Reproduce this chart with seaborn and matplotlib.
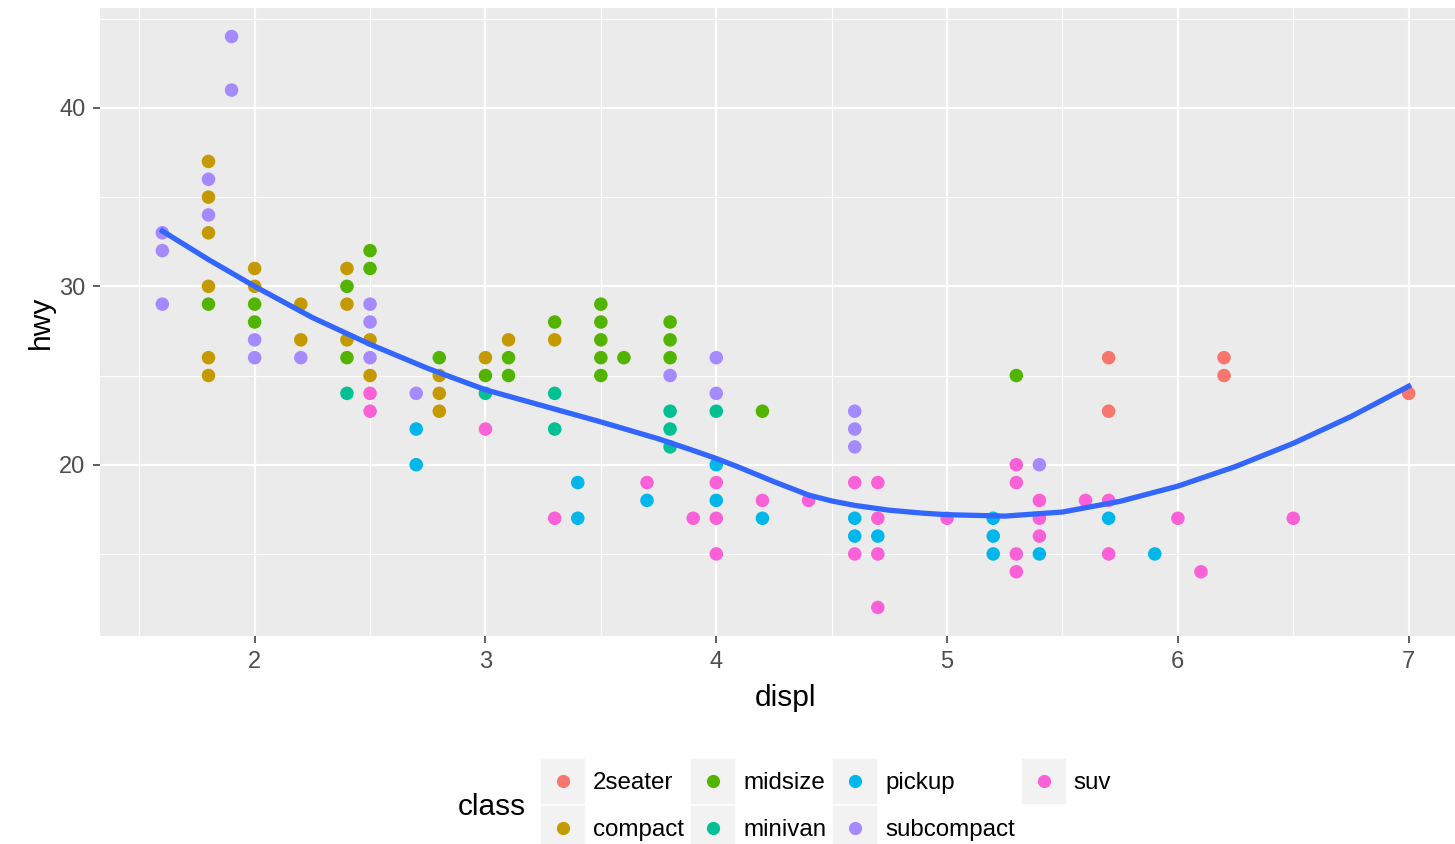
import matplotlib
matplotlib.use("Agg")
import matplotlib.pyplot as plt
from matplotlib.patches import Rectangle
from matplotlib.lines import Line2D
from matplotlib.legend_handler import HandlerBase
import seaborn as sns
import pandas as pd

# ---- data (distinct visible points) ----
twoseater_displ = [5.7, 5.7, 6.2, 6.2, 7.0]
twoseater_hwy = [26, 23, 26, 25, 24]

compact_displ = [1.8, 1.8, 1.8, 1.8, 1.8, 1.8, 2.0, 2.0, 2.2, 2.2, 2.4, 2.4, 2.4,
                 2.5, 2.5, 2.8, 2.8, 2.8, 3.0, 3.1, 3.3]
compact_hwy = [37, 35, 33, 30, 26, 25, 31, 30, 29, 27, 31, 29, 27,
               27, 25, 25, 24, 23, 26, 27, 27]

midsize_displ = [1.8, 2.0, 2.0, 2.4, 2.4, 2.5, 2.5, 2.8, 3.0, 3.1, 3.1, 3.3, 3.5, 3.5,
                 3.5, 3.5, 3.5, 3.6, 3.8, 3.8, 3.8, 4.2, 5.3]
midsize_hwy = [29, 29, 28, 30, 26, 32, 31, 26, 25, 26, 25, 28, 29, 28,
               27, 26, 25, 26, 28, 27, 26, 23, 25]

minivan_displ = [2.4, 3.0, 3.3, 3.3, 3.8, 3.8, 3.8, 4.0]
minivan_hwy = [24, 24, 24, 22, 23, 22, 21, 23]

pickup_displ = [2.7, 2.7, 3.4, 3.4, 3.7, 4.0, 4.0, 4.2, 4.6, 4.6, 4.7, 5.2, 5.2, 5.2,
                5.4, 5.7, 5.9]
pickup_hwy = [22, 20, 19, 17, 18, 20, 18, 17, 17, 16, 16, 17, 16, 15,
              15, 17, 15]

subcompact_displ = [1.6, 1.6, 1.6, 1.8, 1.8, 1.9, 1.9, 2.0, 2.0, 2.2, 2.5, 2.5, 2.5,
                    2.7, 3.8, 4.0, 4.0, 4.6, 4.6, 4.6, 5.4]
subcompact_hwy = [33, 32, 29, 36, 34, 44, 41, 27, 26, 26, 29, 28, 26,
                  24, 25, 26, 24, 23, 22, 21, 20]

suv_displ = [2.5, 2.5, 3.0, 3.3, 3.7, 3.9, 4.0, 4.0, 4.0, 4.2, 4.4, 4.6, 4.6, 4.7, 4.7,
             4.7, 4.7, 5.0, 5.3, 5.3, 5.3, 5.3, 5.4, 5.4, 5.4, 5.6, 5.7, 5.7, 6.0,
             6.1, 6.5]
suv_hwy = [24, 23, 22, 17, 19, 17, 19, 17, 15, 18, 18, 19, 15, 19, 17,
           15, 12, 17, 20, 19, 15, 14, 18, 17, 16, 18, 18, 15, 17,
           14, 17]

classes = ["2seater", "compact", "midsize", "minivan", "pickup", "subcompact", "suv"]
class_colors = ["#F8766D", "#C49A00", "#53B400", "#00C094", "#00B6EB", "#A58AFF", "#FB61D7"]

# smooth (loess) curve
smooth_x = [1.6, 1.8, 2.0, 2.25, 2.5, 2.75, 3.0, 3.25, 3.5, 3.75, 3.9, 4.0, 4.1, 4.25,
            4.4, 4.5, 4.6, 4.75, 4.9, 5.0, 5.25, 5.5, 5.75, 6.0, 6.25, 6.5, 6.75, 7.0]
smooth_y = [33.1, 31.5, 30.0, 28.25, 26.75, 25.4, 24.2, 23.3, 22.4, 21.45, 20.8, 20.35,
            19.85, 19.05, 18.3, 17.97, 17.72, 17.45, 17.28, 17.2, 17.12, 17.35, 17.95,
            18.8, 19.9, 21.2, 22.7, 24.4]

x_ticks = [2, 3, 4, 5, 6, 7]
y_ticks = [20, 30, 40]

# ---- build table ----
series = [(twoseater_displ, twoseater_hwy), (compact_displ, compact_hwy),
          (midsize_displ, midsize_hwy), (minivan_displ, minivan_hwy),
          (pickup_displ, pickup_hwy), (subcompact_displ, subcompact_hwy),
          (suv_displ, suv_hwy)]
rows = []
for cls, (xs, ys) in zip(classes, series):
    for xv, yv in zip(xs, ys):
        rows.append({"displ": xv, "hwy": yv, "class": cls})
df = pd.DataFrame(rows)
palette = dict(zip(classes, class_colors))

plt.rcParams["font.family"] = ["Liberation Sans", "DejaVu Sans"]

W, H = 1455, 844
TICK_FS = 17
TITLE_FS = 21.5
fig = plt.figure(figsize=(W / 100, H / 100), dpi=100)
ax = fig.add_axes([100 / W, 1 - 636 / H, 1371 / W, 628 / H])
ax.set_facecolor("#EBEBEB")
for s in ax.spines.values():
    s.set_visible(False)

ax.set_xlim(1.33, 7.27)
ax.set_ylim(10.4, 45.6)
ax.set_xticks(x_ticks)
ax.set_yticks(y_ticks)
ax.set_xticks([1.5, 2.5, 3.5, 4.5, 5.5, 6.5], minor=True)
ax.set_yticks([15, 25, 35, 45], minor=True)
ax.grid(True, which="major", color="white", linewidth=1.6)
ax.grid(True, which="minor", color="white", linewidth=0.8)
ax.set_axisbelow(True)
ax.tick_params(which="major", length=5, width=1.1, color="#333333",
               labelsize=TICK_FS, labelcolor="#4D4D4D")
ax.tick_params(axis="x", which="major", pad=5.5)
ax.tick_params(axis="y", which="major", pad=5.5)
ax.tick_params(which="minor", length=0)

sns.scatterplot(data=df, x="displ", y="hwy", hue="class", hue_order=classes,
                palette=palette, s=95, linewidth=0, legend=False, ax=ax, zorder=3)
sns.lineplot(x=smooth_x, y=smooth_y, color="#3366FF", linewidth=3.8, ax=ax,
             zorder=4, estimator=None, sort=False)

ax.set_xlabel("displ", fontsize=TITLE_FS, color="black", labelpad=8)
ax.set_ylabel("hwy", fontsize=TITLE_FS, color="black", labelpad=3)


class KeyHandler(HandlerBase):
    def create_artists(self, legend, orig_handle, xdescent, ydescent, width, height,
                       fontsize, trans):
        rect = Rectangle((-xdescent, -ydescent), width, height, facecolor="#F2F2F2",
                         edgecolor="white", linewidth=1.2, transform=trans)
        dot = Line2D([width / 2 - xdescent], [height / 2 - ydescent], marker="o",
                     markersize=9.5, color=orig_handle.get_color(), linestyle="none",
                     markeredgewidth=0, transform=trans)
        return [rect, dot]


LEG_FS = 17.4
fs_px = LEG_FS / 72 * 100
box_pt = 47 * 0.72
hh = (box_pt / LEG_FS - 0.245) / 0.65
handles = [Line2D([], [], color=c) for c in class_colors]
fig.legend(handles, classes, loc="upper left", bbox_to_anchor=(540 / W, 1 - 758 / H),
           ncol=4, frameon=False, borderpad=0, borderaxespad=0,
           handlelength=46 / fs_px, handleheight=hh, handletextpad=7 / fs_px,
           columnspacing=6 / fs_px, labelspacing=0.0, fontsize=LEG_FS,
           handler_map={Line2D: KeyHandler()})
fig.text(458 / W, 1 - 807 / H, "class", fontsize=TITLE_FS, va="center", ha="left")

fig.savefig("out.png", dpi=100)
